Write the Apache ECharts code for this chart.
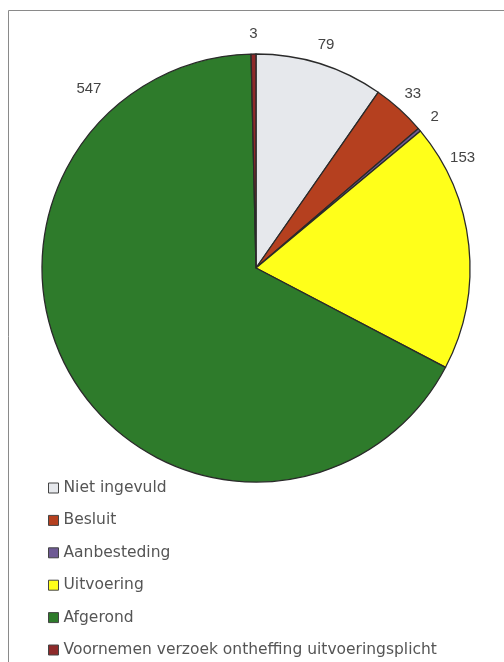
<!DOCTYPE html>
<html>
<head>
<meta charset="utf-8">
<script src="https://cdn.jsdelivr.net/npm/echarts@6/dist/echarts.min.js"></script>
<style>
html,body{margin:0;padding:0;background:#fff;}
#chart{width:504px;height:662px;}
</style>
</head>
<body>
<div id="chart"></div>
<script>
// Data
const categories = ['Niet ingevuld', 'Besluit', 'Aanbesteding', 'Uitvoering', 'Afgerond', 'Voornemen verzoek ontheffing uitvoeringsplicht'];
const values = [79, 33, 2, 153, 547, 3];

// Styles
const colors = ['#e6e8ec', '#b5401f', '#6e5a94', '#ffff1a', '#2e7b2b', '#8e2a2a'];
const CX = 256, CY = 268, R = 214;
// label placement: angle overrides (degrees clockwise from top) for labels moved away from slice middle
const labelAngleOverride = {3: 62, 4: 317};
const labelDist = {4: 245};

const total = values.reduce((a, b) => a + b, 0);
const cum = [];
values.reduce((acc, v, i) => { cum[i] = acc; return acc + v; }, 0);

const chart = echarts.init(document.getElementById('chart'), null, {renderer: 'canvas'});
chart.setOption({
  animation: false,
  backgroundColor: '#fff',
  color: colors,
  graphic: [{
    type: 'rect',
    shape: {x: 8.5, y: 10.5, width: 520, height: 680},
    style: {fill: 'none', stroke: '#8a8a8a', lineWidth: 1},
    silent: true, z: -1
  }],
  legend: {
    orient: 'vertical',
    left: 48,
    top: 480,
    padding: 0,
    height: 182,
    itemWidth: 10,
    itemHeight: 10,
    itemGap: 16.4,
    icon: 'rect',
    itemStyle: {borderColor: '#444', borderWidth: 1},
    textStyle: {fontFamily: 'DejaVu Sans, sans-serif', fontSize: 15.5, color: '#555', lineHeight: 16},
    data: categories
  },
  series: [{
    type: 'pie',
    center: [CX, CY],
    radius: R,
    startAngle: 90,
    clockwise: true,
    avoidLabelOverlap: false,
    itemStyle: {borderColor: '#2a2a2a', borderWidth: 1.3},
    label: {
      show: true,
      position: 'outside',
      formatter: '{c}',
      fontFamily: 'Liberation Sans, Arial, sans-serif',
      fontSize: 15,
      color: '#444'
    },
    labelLine: {show: false},
    labelLayout: function (params) {
      const i = params.dataIndex;
      let ang = (cum[i] + values[i] / 2) / total * 360;
      if (labelAngleOverride[i] !== undefined) ang = labelAngleOverride[i];
      const d = labelDist[i] !== undefined ? labelDist[i] : 234;
      const a = ang * Math.PI / 180;
      return {
        x: CX + d * Math.sin(a),
        y: CY - d * Math.cos(a),
        align: 'center',
        verticalAlign: 'middle'
      };
    },
    data: categories.map((c, i) => ({name: c, value: values[i]}))
  }]
});
</script>
</body>
</html>
